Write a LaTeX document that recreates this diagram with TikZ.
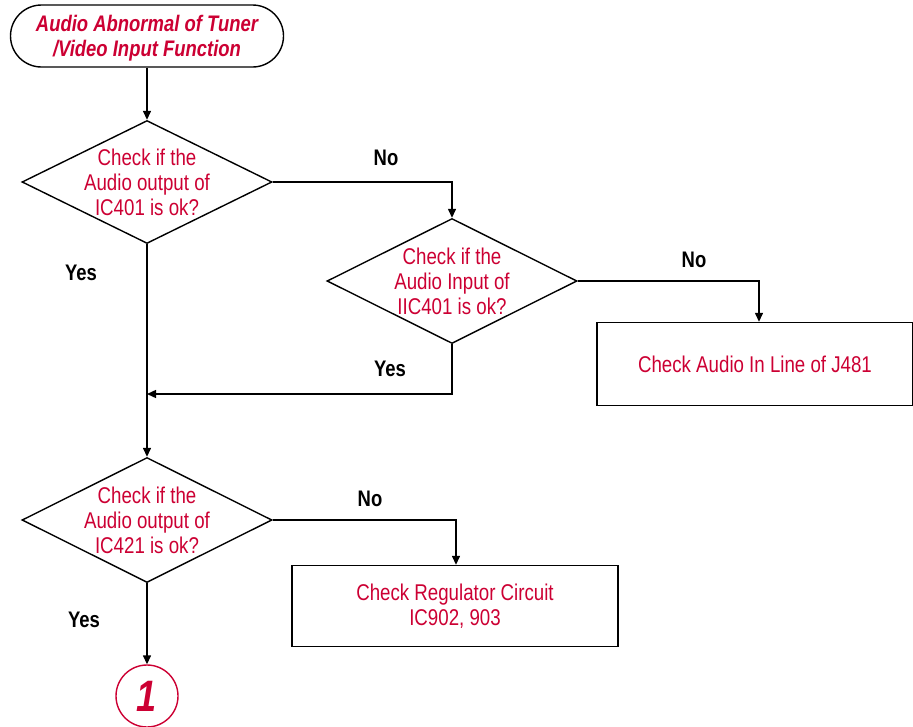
\documentclass[tikz,border=0pt]{standalone}
\usepackage{fontspec}
\setmainfont{Liberation Sans}[FakeStretch=0.82]
\usetikzlibrary{shapes.geometric,arrows.meta}
\definecolor{tred}{RGB}{204,0,51}
\tikzset{
  line/.style={draw=black,line width=1.4pt},
  arr/.style={line,-{Triangle[length=9pt,width=8pt]}},
  dia/.style={diamond,line,minimum width=250pt,minimum height=123pt,aspect=2,inner sep=0pt},
  dtext/.style={text=tred,align=center,font=\fontsize{22.8}{25}\selectfont},
  box/.style={rectangle,line,text=tred,align=center,font=\fontsize{22.8}{25}\selectfont},
  lab/.style={font=\fontsize{22.5}{23}\selectfont\bfseries,text=black},
}
\begin{document}
\begin{tikzpicture}[x=1pt,y=-1pt]
\useasboundingbox (0,0) rectangle (913,726);
\node[line,rounded corners=31pt,minimum width=273pt,minimum height=62pt] (start) at (147,36) {};
\node[text=tred,align=center,font=\fontsize{22.5}{25}\selectfont\bfseries\itshape] (st) at (147,38) {Audio Abnormal of Tuner\\/Video Input Function};
\node[dia] (d1) at (147,182) {};
\node[dtext] (t1) at (d1.center) {Check if the\\Audio output of\\IC401 is ok?};
\node[dia,minimum height=125pt] (d2) at (452,281) {};
\node[dtext] (t2) at (d2.center) {Check if the\\Audio Input of\\IIC401 is ok?};
\node[dia,minimum height=125pt] (d3) at (147,520) {};
\node[dtext] (t3) at (d3.center) {Check if the\\Audio output of\\IC421 is ok?};
\node[box,minimum width=316pt,minimum height=83pt] (b1) at (755,364) {Check Audio In Line of J481};
\node[box,minimum width=326pt,minimum height=81pt] (b2) at (455,606) {Check Regulator Circuit\\IC902, 903};
\node[circle,draw=tred,line width=1.4pt,minimum size=62pt,inner sep=0pt,text=tred,font=\fontsize{44}{44}\selectfont\bfseries\itshape] (c1) at (147,696) {1};
\coordinate (m1) at (147,394);
\draw[arr] (start) -- (d1);
\draw[arr] (d1.east) -| (d2.north);
\draw[arr] (d2.east) -| (b1.north -| 759,0);
\draw[arr] (d2.south) |- (m1);
\draw[arr] (d1.south) -- (d3.north);
\draw[arr] (d3.east) -| (b2.north -| 456,0);
\draw[arr] (d3.south) -- (c1.north);
\node[lab] (n1) at (386,158) {No};
\node[lab] (n2) at (694,260) {No};
\node[lab] (y1) at (81,273) {Yes};
\node[lab] (y2) at (390,369) {Yes};
\node[lab] (n3) at (370,499) {No};
\node[lab] (y3) at (84,620) {Yes};
\end{tikzpicture}
\end{document}
